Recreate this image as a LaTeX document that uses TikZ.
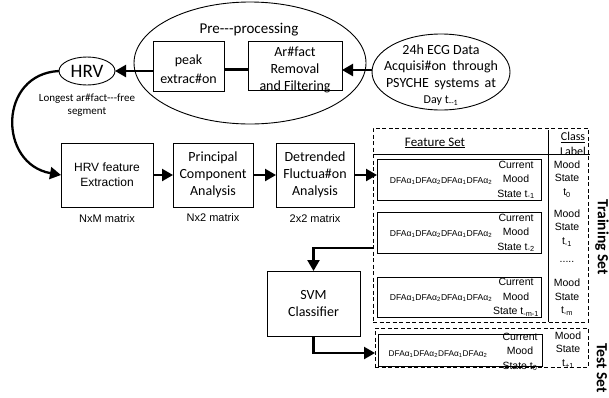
\documentclass[tikz,border=0pt]{standalone}
\usepackage{fontspec}
\setmainfont{Carlito}
\newfontfamily\arial{Liberation Sans}
\usetikzlibrary{arrows.meta,shapes.geometric}
\begin{document}
\begin{tikzpicture}[x=1pt,y=-1pt,
  every node/.style={inner sep=0pt,outer sep=0pt},
  box/.style={draw,line width=0.8pt},
  dbox/.style={draw,line width=0.8pt,dash pattern=on 4pt off 2.5pt},
  oval/.style={draw,ellipse,line width=0.9pt},
  arr/.style={line width=2.3pt,-{Triangle[length=11pt,width=12pt]}},
  cal/.style={font=\fontsize{14}{17}\selectfont,align=center},
  ari/.style={font=\arial\fontsize{12}{15}\selectfont,align=center},
  mat/.style={font=\arial\fontsize{11}{13}\selectfont},
  dfatxt/.style={font=\arial\fontsize{8.6}{10}\selectfont},
  cur/.style={font=\arial\fontsize{10.5}{14.5}\selectfont,align=center},
  cls/.style={font=\arial\fontsize{10.5}{13.5}\selectfont,align=center},
  side/.style={font=\fontsize{15.5}{17}\selectfont\bfseries,rotate=-90}
]
\useasboundingbox (0,0) rectangle (609,397);

% pre-processing
\node[oval,minimum width=232pt,minimum height=122pt] (pre) at (250,63) {};
\node[font=\fontsize{15}{18}\selectfont] (pretitle) at (249,30) {Pre-{}-{}-processing};
\node[box,minimum width=71pt,minimum height=50pt] (peak) at (188.5,66) {};
\node[font=\fontsize{14}{19}\selectfont,align=center] (peaktxt) at (188.5,69) {peak\\extrac\#on};
\node[box,minimum width=94pt,minimum height=49pt] (art) at (295,65.5) {};
\node[cal] (arttxt) at (295,70) {Ar\#fact\\Removal\\and Filtering};
\draw[line width=3pt] (peak.east |- 0,69) -- (art.west |- 0,69);

% ECG
\node[oval,minimum width=138pt,minimum height=76pt] (ecg) at (441,72) {};
\node[font=\fontsize{14}{16.3}\selectfont,align=center] (ecgtxt) at (441,75)
  {24h ECG Data\\\makebox[114pt][s]{Acquisi\#on through}\\\makebox[110pt][s]{PSYCHE systems at}\\{\fontsize{12}{14}\selectfont Day t\textsubscript{-{}-1}}};
\draw[arr] (ecg.west |- 0,70) -- (art.east |- 0,70);

% HRV
\node[oval,minimum width=56pt,minimum height=28pt,font=\fontsize{19}{20}\selectfont] (hrv) at (87,71) {HRV};
\node[font=\fontsize{11}{13}\selectfont,align=center] (hrvnote) at (87,105) {Longest ar\#fact-{}-{}-free\\segment};
\draw[arr] (peak.west |- hrv.east) -- (hrv.east);

% processing chain
\node[box,minimum width=92pt,minimum height=64pt,ari] (hrvf) at (107,175) {HRV feature\\Extraction};
\node[box,minimum width=80pt,minimum height=64pt,cal] (pca) at (213,175) {Principal\\Component\\Analysis};
\node[box,minimum width=78pt,minimum height=64pt,cal] (dfa) at (315,175) {Detrended\\Fluctua\#on\\Analysis};
\node[mat] (m1) at (107,219) {NxM matrix};
\node[mat] (m2) at (213,218) {Nx2 matrix};
\node[mat] (m3) at (315,219) {2x2 matrix};
\draw[arr] (hrv.west) .. controls (-2,74) and (-2,164) .. (hrvf.west);
\draw[arr] (hrvf.east) -- (pca.west);
\draw[arr] (pca.east) -- (dfa.west);

% training set
\node[dbox,minimum width=215pt,minimum height=194pt] (train) at (480.5,225) {};
\draw[line width=0.8pt] (373,154) -- (590,154);
\draw[line width=0.8pt] (548,130) -- (548,322);
\node[font=\fontsize{13}{15}\selectfont] (fs) at (435,143) {\underline{Feature Set}};
\node[font=\fontsize{12}{15}\selectfont,align=center] (cl) at (573,144) {\underline{Class}\\Label};

\node[box,minimum width=164pt,minimum height=41pt] (row1) at (459,179.5) {};
\node[box,minimum width=164pt,minimum height=41pt] (row2) at (459,232.5) {};
\node[box,minimum width=164pt,minimum height=40pt] (row3) at (459.5,297) {};
\draw[arr] (dfa.east) -- (dfa.east -| row1.west);

\node[dfatxt] (d1) at (441,181) {DFAα\textsubscript{1}DFAα\textsubscript{2}DFAα\textsubscript{1}DFAα\textsubscript{2}};
\node[dfatxt] (d2) at (441,234) {DFAα\textsubscript{1}DFAα\textsubscript{2}DFAα\textsubscript{1}DFAα\textsubscript{2}};
\node[dfatxt] (d3) at (441,298) {DFAα\textsubscript{1}DFAα\textsubscript{2}DFAα\textsubscript{1}DFAα\textsubscript{2}};
\node[cur] (c1) at (516,180) {Current\\Mood\\State t\textsubscript{-1}};
\node[cur] (c2) at (516,233) {Current\\Mood\\State t\textsubscript{-2}};
\node[cur] (c3) at (516,297.5) {Current\\Mood\\State t\textsubscript{-m-1}};
\node[cls] (l1) at (567,179) {Mood\\State\\t\textsubscript{0}};
\node[cls] (l2) at (567,228) {Mood\\State\\t\textsubscript{-1}};
\node[cls] (l2b) at (567,262) {.....};
\node[cls] (l3) at (567,297.5) {Mood\\State\\t\textsubscript{-m}};

% test set
\node[dbox,minimum width=213pt,minimum height=39pt] (test) at (481.5,347.5) {};
\node[box,minimum width=164pt,minimum height=32pt] (trow) at (460,350) {};
\node[font=\arial\fontsize{8.3}{10}\selectfont] (d4) at (438,354) {DFAα\textsubscript{1}DFAα\textsubscript{2}DFAα\textsubscript{1}DFAα\textsubscript{2}};
\node[cur] (c4) at (520,352) {Current\\Mood\\State t\textsubscript{0}};
\node[cls] (l4) at (568,350) {Mood\\State\\t\textsubscript{+1}};

\node[side] (trs) at (602,237) {Training Set};
\node[side] (tes) at (602,368) {Test Set};

% SVM
\node[box,minimum width=93pt,minimum height=65pt,cal] (svm) at (313.5,303.5) {SVM\\Classifier};
\draw[arr] (train.west |- 0,248) -| (svm.north);
\draw[arr] (svm.south) |- (test.west |- 0,353);
\end{tikzpicture}
\end{document}
